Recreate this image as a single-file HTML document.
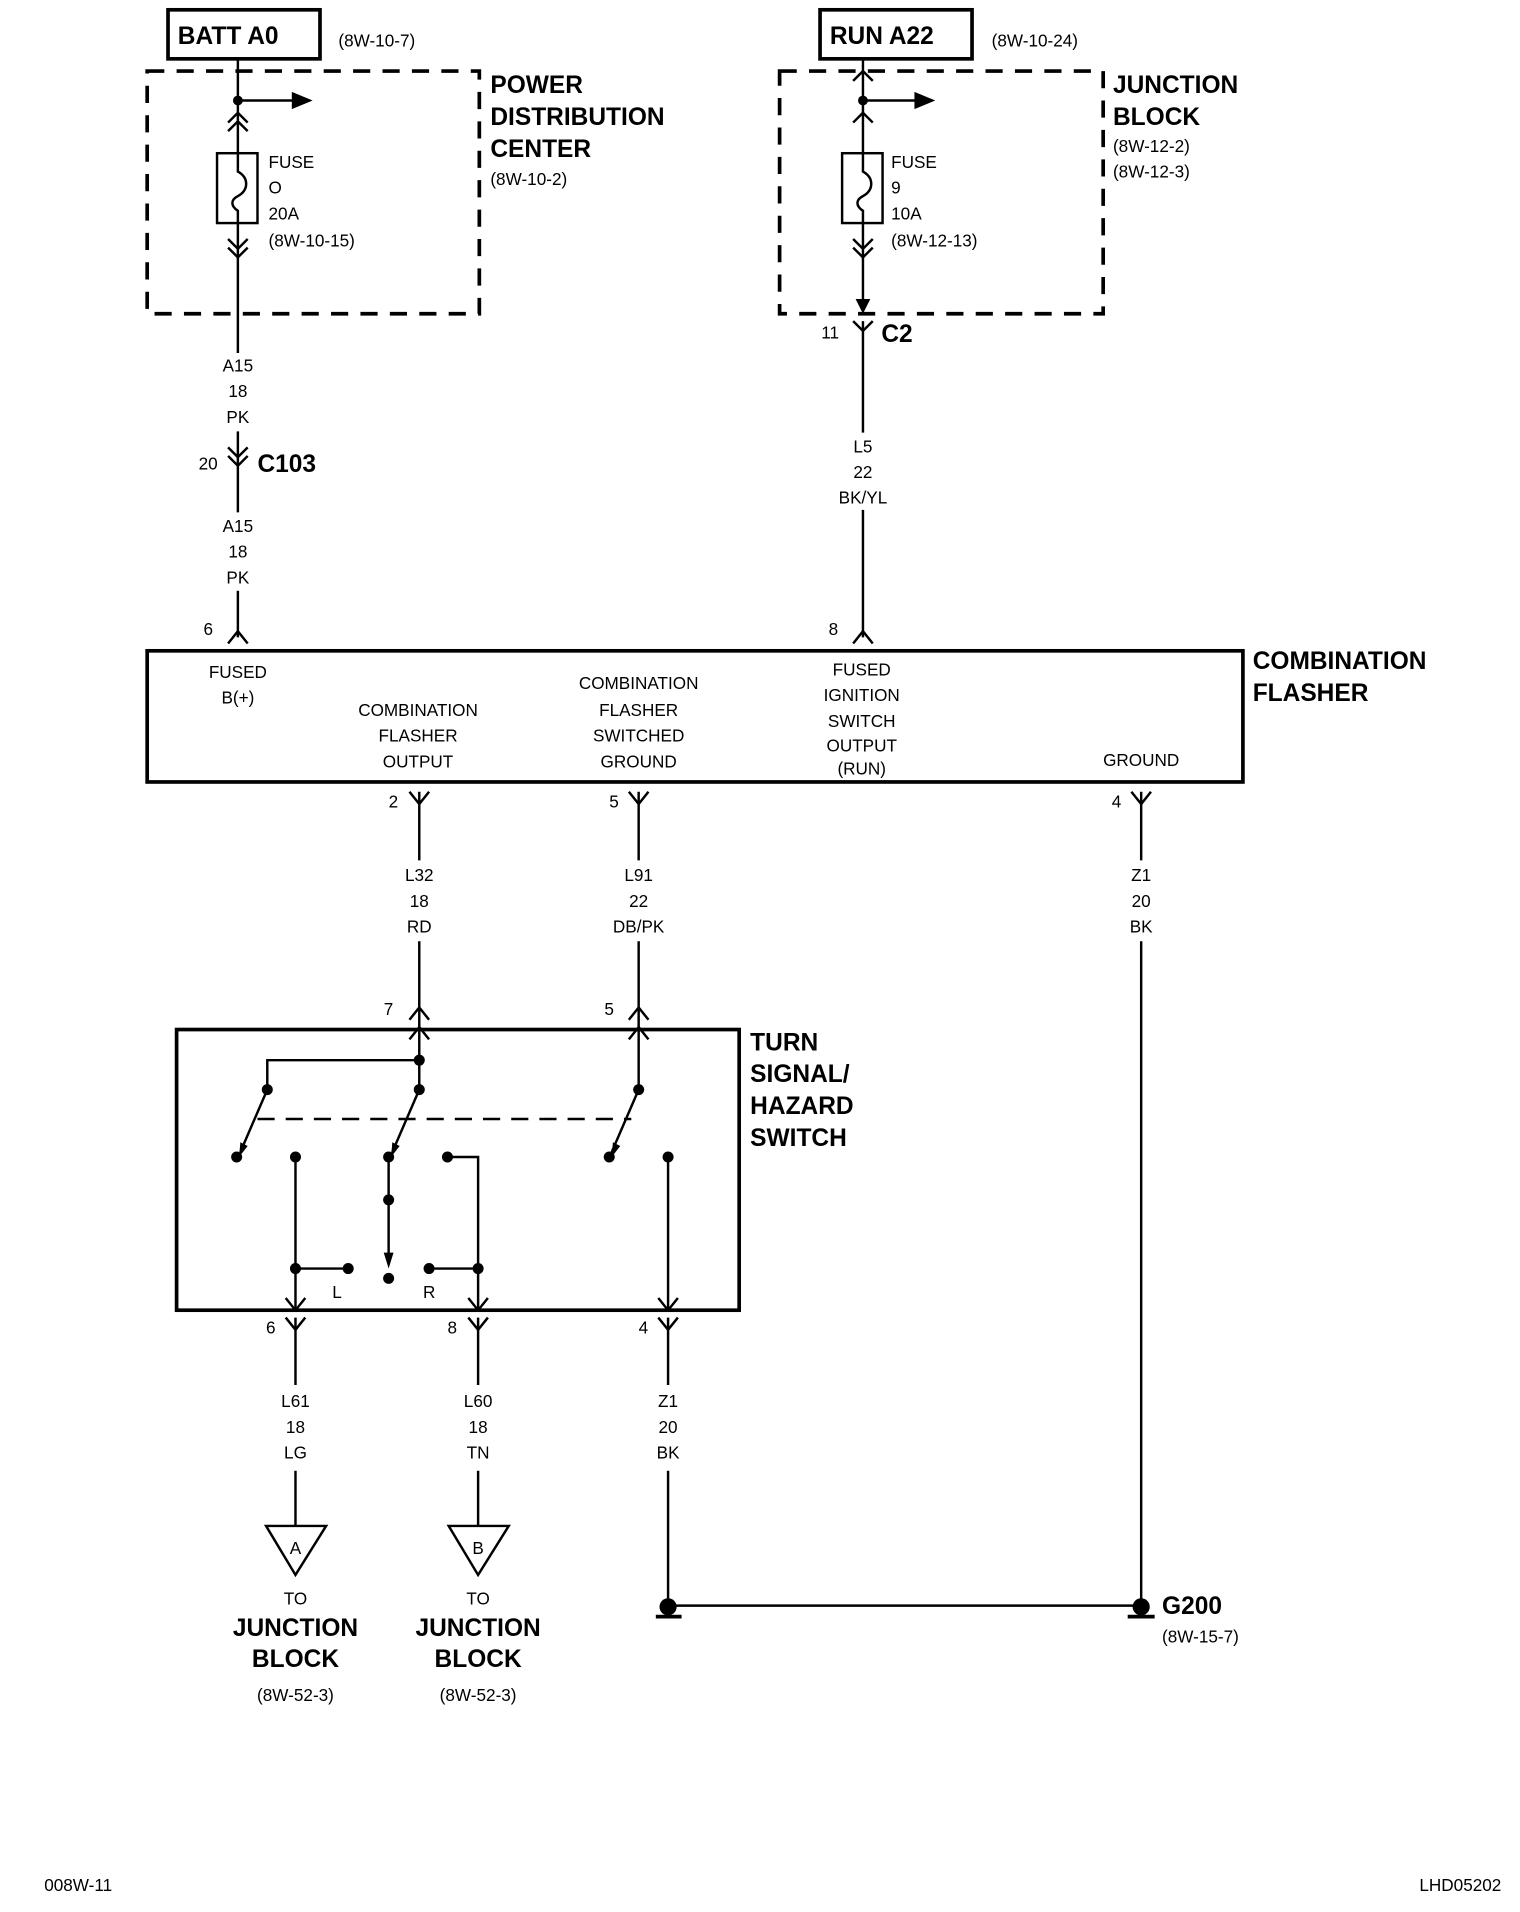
<!DOCTYPE html>
<html><head><meta charset="utf-8"><style>
html,body{margin:0;padding:0;background:#fff;}
svg{display:block;}
text{font-family:"Liberation Sans",Arial,sans-serif;fill:#000;}
.s{font-size:14px;}
.b{font-size:20px;font-weight:bold;}
.m{text-anchor:middle;}
</style></head><body>
<svg width="1520" height="1912" viewBox="0 0 1240 1560" xmlns="http://www.w3.org/2000/svg">
<g stroke="#000" fill="none" stroke-width="2">
<rect x="137" y="8" width="124" height="40" stroke-width="3"/>
<rect x="669" y="8" width="124" height="40" stroke-width="3"/>
<rect x="120" y="58" width="271" height="198" stroke-width="3" stroke-dasharray="14,10"/>
<rect x="636" y="58" width="264" height="198" stroke-width="3" stroke-dasharray="14,10"/>
<!-- left feed -->
<line x1="194" y1="48" x2="194" y2="125"/>
<line x1="194" y1="182" x2="194" y2="288"/>
<line x1="194" y1="352" x2="194" y2="418"/>
<line x1="194" y1="482" x2="194" y2="520"/>
<line x1="194" y1="82" x2="240" y2="82"/>
<path d="M186,100 L194,92 L202,100 M186,107 L194,99 L202,107"/>
<rect x="177" y="125" width="33" height="57"/>
<path d="M194,125 V140 C203,145 203,155 194,160 C188,163 188,168 194,172 V182"/>
<path d="M186,195 L194,203 L202,195 M186,202 L194,210 L202,202"/>
<path d="M186,365 L194,373 L202,365 M186,372 L194,380 L202,372"/>
<path d="M186,525 L194,515 L202,525"/>
<!-- right feed -->
<line x1="704" y1="48" x2="704" y2="125"/>
<line x1="704" y1="182" x2="704" y2="250"/>
<line x1="704" y1="262" x2="704" y2="353"/>
<line x1="704" y1="416" x2="704" y2="520"/>
<line x1="704" y1="82" x2="748" y2="82"/>
<path d="M696,66 L704,58 L712,66"/>
<path d="M696,100 L704,92 L712,100"/>
<rect x="687" y="125" width="33" height="57"/>
<path d="M704,125 V140 C713,145 713,155 704,160 C698,163 698,168 704,172 V182"/>
<path d="M696,195 L704,203 L712,195 M696,202 L704,210 L712,202"/>
<path d="M696,262 L704,270 L712,262"/>
<path d="M696,525 L704,515 L712,525"/>
<!-- flasher -->
<rect x="120" y="531" width="894" height="107" stroke-width="3"/>
<path d="M334,646 L342,656 L350,646"/>
<path d="M513,646 L521,656 L529,646"/>
<path d="M923,646 L931,656 L939,646"/>
<line x1="342" y1="646" x2="342" y2="702"/>
<line x1="342" y1="768" x2="342" y2="865"/>
<line x1="521" y1="646" x2="521" y2="702"/>
<line x1="521" y1="768" x2="521" y2="889"/>
<line x1="931" y1="646" x2="931" y2="702"/>
<line x1="931" y1="768" x2="931" y2="1310"/>
<path d="M334,832 L342,822 L350,832 M334,848 L342,838 L350,848"/>
<path d="M513,832 L521,822 L529,832 M513,848 L521,838 L529,848"/>
<!-- turn switch -->
<rect x="144" y="840" width="459" height="229" stroke-width="3"/>
<path d="M342,865 H218 V889"/>
<line x1="342" y1="865" x2="342" y2="889"/>
<line x1="218" y1="889" x2="196" y2="940"/>
<line x1="342" y1="889" x2="320" y2="940"/>
<line x1="521" y1="889" x2="499" y2="940"/>
<line x1="210" y1="913" x2="515" y2="913" stroke-dasharray="14,9"/>
<line x1="241" y1="944" x2="241" y2="1069"/>
<line x1="241" y1="1035" x2="284" y2="1035"/>
<line x1="317" y1="944" x2="317" y2="1030"/>
<path d="M365,944 H390 V1069"/>
<line x1="350" y1="1035" x2="390" y2="1035"/>
<line x1="545" y1="944" x2="545" y2="1069"/>
<path d="M233,1059 L241,1069 L249,1059"/>
<path d="M382,1059 L390,1069 L398,1059"/>
<path d="M537,1059 L545,1069 L553,1059"/>
<path d="M233,1075 L241,1085 L249,1075"/>
<path d="M382,1075 L390,1085 L398,1075"/>
<path d="M537,1075 L545,1085 L553,1075"/>
<line x1="241" y1="1075" x2="241" y2="1130"/>
<line x1="390" y1="1075" x2="390" y2="1130"/>
<line x1="545" y1="1075" x2="545" y2="1130"/>
<line x1="241" y1="1200" x2="241" y2="1245"/>
<line x1="390" y1="1200" x2="390" y2="1245"/>
<line x1="545" y1="1200" x2="545" y2="1310"/>
<path d="M217,1245 H266 L241,1285 Z"/>
<path d="M366,1245 H415 L390,1285 Z"/>
<line x1="545" y1="1310" x2="931" y2="1310"/>
<line x1="535" y1="1319" x2="556" y2="1319" stroke-width="3"/>
<line x1="920" y1="1319" x2="942" y2="1319" stroke-width="3"/>
</g>
<g fill="#000">
<circle cx="194" cy="82" r="4"/><circle cx="704" cy="82" r="4"/>
<path d="M255,82 L238,75 L238,89 Z"/><path d="M763,82 L746,75 L746,89 Z"/>
<path d="M704,256 L698,244 L710,244 Z"/>
<circle cx="342" cy="865" r="4.5"/><circle cx="218" cy="889" r="4.5"/><circle cx="342" cy="889" r="4.5"/><circle cx="521" cy="889" r="4.5"/>
<circle cx="193" cy="944" r="4.5"/><circle cx="241" cy="944" r="4.5"/><circle cx="317" cy="944" r="4.5"/><circle cx="365" cy="944" r="4.5"/><circle cx="497" cy="944" r="4.5"/><circle cx="545" cy="944" r="4.5"/>
<circle cx="317" cy="979" r="4.5"/><circle cx="241" cy="1035" r="4.5"/><circle cx="284" cy="1035" r="4.5"/><circle cx="317" cy="1043" r="4.5"/><circle cx="350" cy="1035" r="4.5"/><circle cx="390" cy="1035" r="4.5"/>
<path d="M195,944 L196,932 L202,935 Z"/><path d="M319,944 L320,932 L326,935 Z"/><path d="M499,944 L500,932 L506,935 Z"/>
<path d="M317,1035 L313,1022 L321,1022 Z"/>
<circle cx="545" cy="1311" r="7"/><circle cx="931" cy="1311" r="7"/>
</g>
<text class="b" x="145" y="36">BATT A0</text>
<text class="s" x="276" y="38">(8W-10-7)</text>
<text class="b" x="677" y="36">RUN A22</text>
<text class="s" x="809" y="38">(8W-10-24)</text>
<text class="b" x="400" y="76">POWER</text>
<text class="b" x="400" y="102">DISTRIBUTION</text>
<text class="b" x="400" y="128">CENTER</text>
<text class="s" x="400" y="151">(8W-10-2)</text>
<text class="b" x="908" y="76">JUNCTION</text>
<text class="b" x="908" y="102">BLOCK</text>
<text class="s" x="908" y="124">(8W-12-2)</text>
<text class="s" x="908" y="145">(8W-12-3)</text>
<text class="s" x="219" y="137">FUSE</text><text class="s" x="219" y="158">O</text><text class="s" x="219" y="179">20A</text><text class="s" x="219" y="201">(8W-10-15)</text>
<text class="s" x="727" y="137">FUSE</text><text class="s" x="727" y="158">9</text><text class="s" x="727" y="179">10A</text><text class="s" x="727" y="201">(8W-12-13)</text>
<text class="s m" x="194" y="303">A15</text><text class="s m" x="194" y="324">18</text><text class="s m" x="194" y="345">PK</text>
<text class="s" x="162" y="383">20</text><text class="b" x="210" y="385">C103</text>
<text class="s m" x="194" y="434">A15</text><text class="s m" x="194" y="455">18</text><text class="s m" x="194" y="476">PK</text>
<text class="s" x="166" y="518">6</text><text class="s" x="676" y="518">8</text>
<text class="s" x="670" y="276">11</text><text class="b" x="719" y="279">C2</text>
<text class="s m" x="704" y="369">L5</text><text class="s m" x="704" y="390">22</text><text class="s m" x="704" y="411">BK/YL</text>
<text class="b" x="1022" y="546">COMBINATION</text><text class="b" x="1022" y="572">FLASHER</text>
<text class="s m" x="194" y="553">FUSED</text><text class="s m" x="194" y="574">B(+)</text>
<text class="s m" x="341" y="584">COMBINATION</text><text class="s m" x="341" y="605">FLASHER</text><text class="s m" x="341" y="626">OUTPUT</text>
<text class="s m" x="521" y="562">COMBINATION</text><text class="s m" x="521" y="584">FLASHER</text><text class="s m" x="521" y="605">SWITCHED</text><text class="s m" x="521" y="626">GROUND</text>
<text class="s m" x="703" y="551">FUSED</text><text class="s m" x="703" y="572">IGNITION</text><text class="s m" x="703" y="593">SWITCH</text><text class="s m" x="703" y="613">OUTPUT</text><text class="s m" x="703" y="632">(RUN)</text>
<text class="s m" x="931" y="625">GROUND</text>
<text class="s" x="317" y="659">2</text><text class="s" x="497" y="659">5</text><text class="s" x="907" y="659">4</text>
<text class="s m" x="342" y="719">L32</text><text class="s m" x="342" y="740">18</text><text class="s m" x="342" y="761">RD</text>
<text class="s m" x="521" y="719">L91</text><text class="s m" x="521" y="740">22</text><text class="s m" x="521" y="761">DB/PK</text>
<text class="s m" x="931" y="719">Z1</text><text class="s m" x="931" y="740">20</text><text class="s m" x="931" y="761">BK</text>
<text class="s" x="313" y="828">7</text><text class="s" x="493" y="828">5</text>
<text class="b" x="612" y="857">TURN</text><text class="b" x="612" y="883">SIGNAL/</text><text class="b" x="612" y="909">HAZARD</text><text class="b" x="612" y="935">SWITCH</text>
<text class="s" x="271" y="1059">L</text><text class="s" x="345" y="1059">R</text>
<text class="s" x="217" y="1088">6</text><text class="s" x="365" y="1088">8</text><text class="s" x="521" y="1088">4</text>
<text class="s m" x="241" y="1148">L61</text><text class="s m" x="241" y="1169">18</text><text class="s m" x="241" y="1190">LG</text>
<text class="s m" x="390" y="1148">L60</text><text class="s m" x="390" y="1169">18</text><text class="s m" x="390" y="1190">TN</text>
<text class="s m" x="545" y="1148">Z1</text><text class="s m" x="545" y="1169">20</text><text class="s m" x="545" y="1190">BK</text>
<text class="s m" x="241" y="1268">A</text><text class="s m" x="390" y="1268">B</text>
<text class="s m" x="241" y="1309">TO</text><text class="b m" x="241" y="1335">JUNCTION</text><text class="b m" x="241" y="1360">BLOCK</text><text class="s m" x="241" y="1388">(8W-52-3)</text>
<text class="s m" x="390" y="1309">TO</text><text class="b m" x="390" y="1335">JUNCTION</text><text class="b m" x="390" y="1360">BLOCK</text><text class="s m" x="390" y="1388">(8W-52-3)</text>
<text class="b" x="948" y="1317">G200</text><text class="s" x="948" y="1340">(8W-15-7)</text>
<text class="s" x="36" y="1543">008W-11</text><text class="s" x="1158" y="1543">LHD05202</text>
</svg>
</body></html>
